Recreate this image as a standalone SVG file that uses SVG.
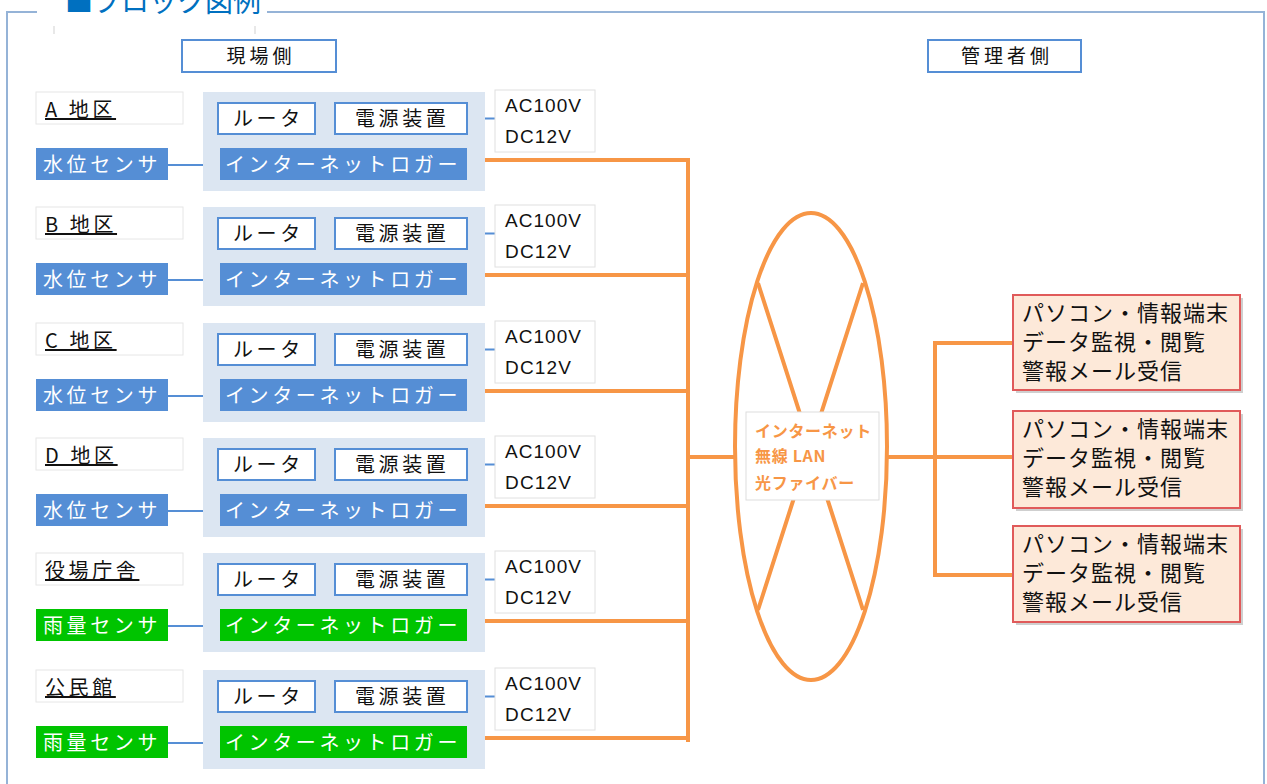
<svg xmlns="http://www.w3.org/2000/svg" width="1267" height="784" viewBox="0 0 1267 784">
<style>
.jp{font-family:'Noto Sans CJK JP','Noto Sans',sans-serif}
.en{font-family:'Liberation Sans',Arial,sans-serif}
.frame{fill:none;stroke:#95b3d7;stroke-width:2}
.panel{fill:#dce6f2}
.wbox{fill:#fff;stroke:#558ed5;stroke-width:2}
.lbl{fill:#fff;stroke:#e6e6e6;stroke-width:1}
.acb{fill:#fff;stroke:#e0e0e0;stroke-width:1}
.blue{fill:#558ed5}
.green{fill:#00c400}
.t20{font-size:20px;letter-spacing:3.6px;fill:#111}
.tw{font-size:20px;letter-spacing:3.6px;fill:#fff}
.hdr{font-size:19px;letter-spacing:4px;fill:#111}
.ac{font-size:19px;fill:#111}
.bl{stroke:#558ed5;stroke-width:2;fill:none}
.or{stroke:#f79646;stroke-width:4;fill:none}
.pc{fill:#fde9d9;stroke:#e05a5a;stroke-width:2}
.pct{font-size:22px;letter-spacing:1px;fill:#111}
.net{font-size:16px;font-weight:bold;fill:#f79646;letter-spacing:0.7px}
</style>

<g id="frame">
<path class="frame" d="M37,12 H7 V784 M267,12 H1264 V784"/>
<text class="jp" x="65" y="12" font-size="28" fill="#0070c0">■ブロック図例</text>
<line x1="54" y1="26" x2="54" y2="34" stroke="#e8e8e8" stroke-width="2"/>
<line x1="255" y1="26" x2="255" y2="34" stroke="#e8e8e8" stroke-width="2"/>
</g>

<g id="hdr-site">
<rect class="wbox" x="182" y="40" width="154" height="32"/>
<text class="jp hdr" x="261" y="63" text-anchor="middle">現場側</text>
</g>
<g id="hdr-admin">
<rect class="wbox" x="928" y="40" width="153" height="32"/>
<text class="jp hdr" x="1007" y="63" text-anchor="middle">管理者側</text>
</g>

<g id="connectors">
<g transform="translate(0,92)">
<path class="bl" d="M315,26.5H335M467,26.5H495M270,42V56M403,42V56M168,73H220"/>
<path class="or" d="M485,68H690"/>
</g>
<g transform="translate(0,207)">
<path class="bl" d="M315,26.5H335M467,26.5H495M270,42V56M403,42V56M168,73H220"/>
<path class="or" d="M485,68H690"/>
</g>
<g transform="translate(0,323)">
<path class="bl" d="M315,26.5H335M467,26.5H495M270,42V56M403,42V56M168,73H220"/>
<path class="or" d="M485,68H690"/>
</g>
<g transform="translate(0,438)">
<path class="bl" d="M315,26.5H335M467,26.5H495M270,42V56M403,42V56M168,73H220"/>
<path class="or" d="M485,68H690"/>
</g>
<g transform="translate(0,553)">
<path class="bl" d="M315,26.5H335M467,26.5H495M270,42V56M403,42V56M168,73H220"/>
<path class="or" d="M485,68H690"/>
</g>
<g transform="translate(0,670)">
<path class="bl" d="M315,26.5H335M467,26.5H495M270,42V56M403,42V56M168,73H220"/>
<path class="or" d="M485,68H690"/>
</g>
<path class="or" d="M688,158V742M688,457H735M887,457H935M935,343V577M933,343H1013M935,457H1013M933,575H1013"/>
</g>

<g id="rowA" transform="translate(0,92)">
<rect class="lbl" x="36" y="0" width="147" height="32"/>
<text class="jp t20" x="45" y="25" text-decoration="underline">A 地区</text>
<rect class="blue" x="36" y="56" width="132" height="32"/>
<text class="jp tw" x="43" y="80">水位センサ</text>
<rect class="panel" x="203" y="0" width="282" height="99"/>
<rect class="wbox" x="218" y="11" width="97" height="31"/>
<text class="jp t20" x="233" y="34">ルータ</text>
<rect class="wbox" x="335" y="11" width="132" height="31"/>
<text class="jp t20" x="355" y="34">電源装置</text>
<rect class="blue" x="220" y="56" width="247" height="32"/>
<text class="jp tw" x="225" y="80">インターネットロガー</text>
<rect class="acb" x="495" y="-2" width="100" height="62"/>
<text class="en ac" x="505" y="20" textLength="76">AC100V</text>
<text class="en ac" x="505" y="51" textLength="66">DC12V</text>
</g>

<g id="rowB" transform="translate(0,207)">
<rect class="lbl" x="36" y="0" width="147" height="32"/>
<text class="jp t20" x="45" y="25" text-decoration="underline">B 地区</text>
<rect class="blue" x="36" y="56" width="132" height="32"/>
<text class="jp tw" x="43" y="80">水位センサ</text>
<rect class="panel" x="203" y="0" width="282" height="99"/>
<rect class="wbox" x="218" y="11" width="97" height="31"/>
<text class="jp t20" x="233" y="34">ルータ</text>
<rect class="wbox" x="335" y="11" width="132" height="31"/>
<text class="jp t20" x="355" y="34">電源装置</text>
<rect class="blue" x="220" y="56" width="247" height="32"/>
<text class="jp tw" x="225" y="80">インターネットロガー</text>
<rect class="acb" x="495" y="-2" width="100" height="62"/>
<text class="en ac" x="505" y="20" textLength="76">AC100V</text>
<text class="en ac" x="505" y="51" textLength="66">DC12V</text>
</g>

<g id="rowC" transform="translate(0,323)">
<rect class="lbl" x="36" y="0" width="147" height="32"/>
<text class="jp t20" x="45" y="25" text-decoration="underline">C 地区</text>
<rect class="blue" x="36" y="56" width="132" height="32"/>
<text class="jp tw" x="43" y="80">水位センサ</text>
<rect class="panel" x="203" y="0" width="282" height="99"/>
<rect class="wbox" x="218" y="11" width="97" height="31"/>
<text class="jp t20" x="233" y="34">ルータ</text>
<rect class="wbox" x="335" y="11" width="132" height="31"/>
<text class="jp t20" x="355" y="34">電源装置</text>
<rect class="blue" x="220" y="56" width="247" height="32"/>
<text class="jp tw" x="225" y="80">インターネットロガー</text>
<rect class="acb" x="495" y="-2" width="100" height="62"/>
<text class="en ac" x="505" y="20" textLength="76">AC100V</text>
<text class="en ac" x="505" y="51" textLength="66">DC12V</text>
</g>

<g id="rowD" transform="translate(0,438)">
<rect class="lbl" x="36" y="0" width="147" height="32"/>
<text class="jp t20" x="45" y="25" text-decoration="underline">D 地区</text>
<rect class="blue" x="36" y="56" width="132" height="32"/>
<text class="jp tw" x="43" y="80">水位センサ</text>
<rect class="panel" x="203" y="0" width="282" height="99"/>
<rect class="wbox" x="218" y="11" width="97" height="31"/>
<text class="jp t20" x="233" y="34">ルータ</text>
<rect class="wbox" x="335" y="11" width="132" height="31"/>
<text class="jp t20" x="355" y="34">電源装置</text>
<rect class="blue" x="220" y="56" width="247" height="32"/>
<text class="jp tw" x="225" y="80">インターネットロガー</text>
<rect class="acb" x="495" y="-2" width="100" height="62"/>
<text class="en ac" x="505" y="20" textLength="76">AC100V</text>
<text class="en ac" x="505" y="51" textLength="66">DC12V</text>
</g>

<g id="rowTownHall" transform="translate(0,553)">
<rect class="lbl" x="36" y="0" width="147" height="32"/>
<text class="jp t20" x="45" y="25" text-decoration="underline">役場庁舎</text>
<rect class="green" x="36" y="56" width="132" height="32"/>
<text class="jp tw" x="43" y="80">雨量センサ</text>
<rect class="panel" x="203" y="0" width="282" height="99"/>
<rect class="wbox" x="218" y="11" width="97" height="31"/>
<text class="jp t20" x="233" y="34">ルータ</text>
<rect class="wbox" x="335" y="11" width="132" height="31"/>
<text class="jp t20" x="355" y="34">電源装置</text>
<rect class="green" x="220" y="56" width="247" height="32"/>
<text class="jp tw" x="225" y="80">インターネットロガー</text>
<rect class="acb" x="495" y="-2" width="100" height="62"/>
<text class="en ac" x="505" y="20" textLength="76">AC100V</text>
<text class="en ac" x="505" y="51" textLength="66">DC12V</text>
</g>

<g id="rowHall" transform="translate(0,670)">
<rect class="lbl" x="36" y="0" width="147" height="32"/>
<text class="jp t20" x="45" y="25" text-decoration="underline">公民館</text>
<rect class="green" x="36" y="56" width="132" height="32"/>
<text class="jp tw" x="43" y="80">雨量センサ</text>
<rect class="panel" x="203" y="0" width="282" height="99"/>
<rect class="wbox" x="218" y="11" width="97" height="31"/>
<text class="jp t20" x="233" y="34">ルータ</text>
<rect class="wbox" x="335" y="11" width="132" height="31"/>
<text class="jp t20" x="355" y="34">電源装置</text>
<rect class="green" x="220" y="56" width="247" height="32"/>
<text class="jp tw" x="225" y="80">インターネットロガー</text>
<rect class="acb" x="495" y="-2" width="100" height="62"/>
<text class="en ac" x="505" y="20" textLength="76">AC100V</text>
<text class="en ac" x="505" y="51" textLength="66">DC12V</text>
</g>

<g id="network">
<ellipse cx="811" cy="446.5" rx="76" ry="233.5" fill="#fff" stroke="#f79646" stroke-width="4"/>
<path class="or" d="M758,283L863,610M863,283L758,610"/>
<rect x="746" y="412" width="133" height="88" fill="#fff" stroke="#dddddd" stroke-width="1"/>
<text class="jp net" x="755" y="437">インターネット</text>
<text class="jp net" x="755" y="462">無線 LAN</text>
<text class="jp net" x="755" y="489">光ファイバー</text>
</g>

<g id="pc1">
<rect x="1016" y="298" width="227" height="95" fill="#cfcfcf"/>
<rect class="pc" x="1013" y="295" width="227" height="95"/>
<text class="jp pct" x="1022" y="321">パソコン・情報端末</text>
<text class="jp pct" x="1022" y="350">データ監視・閲覧</text>
<text class="jp pct" x="1022" y="379">警報メール受信</text>
</g>
<g id="pc2">
<rect x="1016" y="414" width="227" height="97" fill="#cfcfcf"/>
<rect class="pc" x="1013" y="411" width="227" height="97"/>
<text class="jp pct" x="1022" y="437">パソコン・情報端末</text>
<text class="jp pct" x="1022" y="466">データ監視・閲覧</text>
<text class="jp pct" x="1022" y="495">警報メール受信</text>
</g>
<g id="pc3">
<rect x="1016" y="529" width="227" height="96" fill="#cfcfcf"/>
<rect class="pc" x="1013" y="526" width="227" height="96"/>
<text class="jp pct" x="1022" y="552">パソコン・情報端末</text>
<text class="jp pct" x="1022" y="581">データ監視・閲覧</text>
<text class="jp pct" x="1022" y="610">警報メール受信</text>
</g>
</svg>
